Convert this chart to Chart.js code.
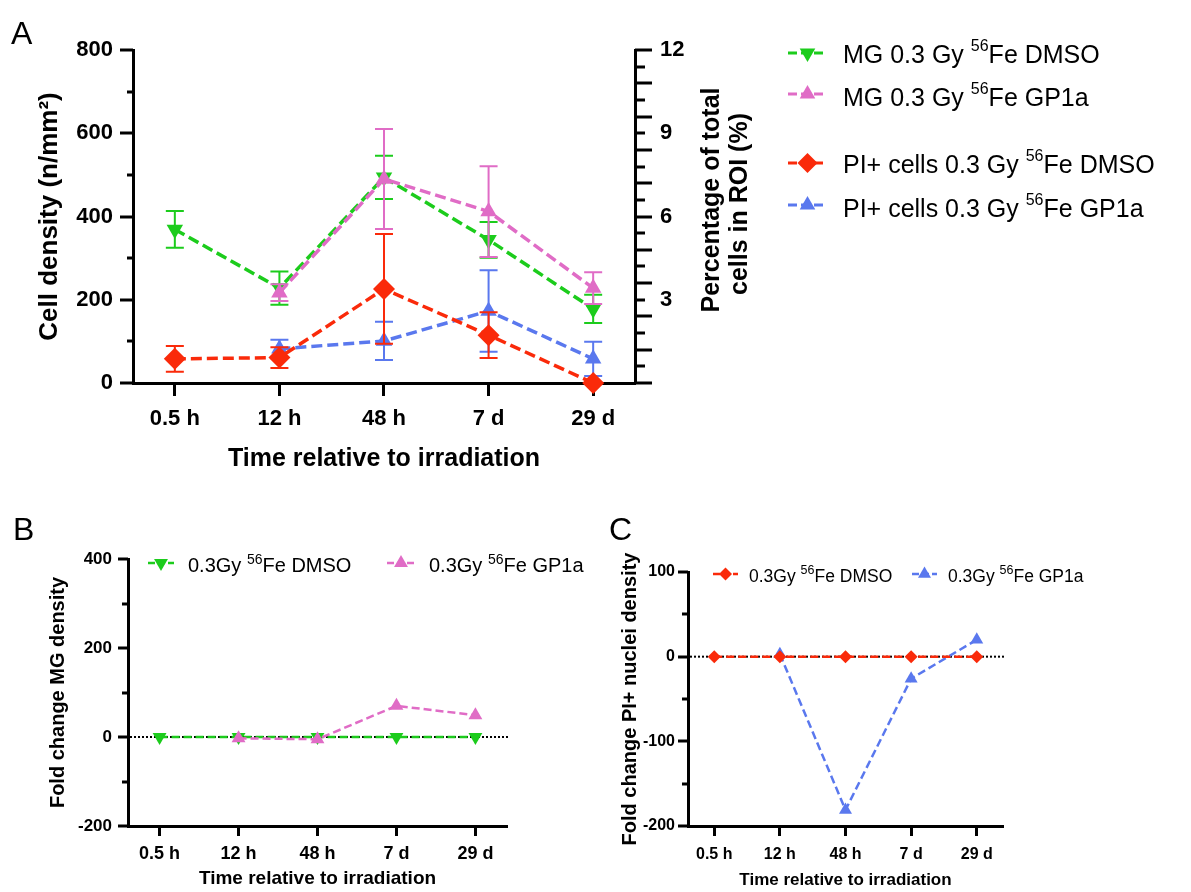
<!DOCTYPE html>
<html>
<head>
<meta charset="utf-8">
<script src="https://cdn.jsdelivr.net/npm/chart.js@4.4.1/dist/chart.umd.min.js"></script>
<style>
  html, body { margin: 0; padding: 0; background: #fff; }
  #fig { position: relative; width: 1191px; height: 892px; overflow: hidden; background: #fff; }
  #fig canvas { position: absolute; }
</style>
</head>
<body>
<div id="fig">
  <canvas id="panelA" width="1191" height="490" style="left:0;top:0"></canvas>
  <canvas id="panelB" width="620" height="402" style="left:0;top:490px"></canvas>
  <canvas id="panelC" width="631" height="402" style="left:560px;top:490px"></canvas>
</div>
<script>
// ---------------- data ----------------
const timepoints = ['0.5 h', '12 h', '48 h', '7 d', '29 d'];

// Panel A: mean ± SEM, cell density (n/mm²)
const mgDmsoMean = [369, 228, 494, 344, 178];
const mgDmsoSem  = [44, 40, 52, 43, 34];
const mgGp1aMean = [null, 217, 490, 412, 228];
const mgGp1aSem  = [null, 20, 120, 109, 38];
const piDmsoMean = [58, 61, 226, 115, 0];
const piDmsoSem  = [31, 25, 132, 55, 0];
const piGp1aMean = [null, 82, 101, 173, 58];
const piGp1aSem  = [null, 22, 46, 98, 41];

// Panel B: fold change of MG density
const foldMgDmso = [0, 0, 0, 0, 0];
const foldMgGp1a = [null, -3, -5, 70, 49];

// Panel C: fold change of PI+ nuclei density
const foldPiDmso = [0, 0, 0, 0, 0];
const foldPiGp1a = [null, 3, -181, -26, 20];

// tick labels
const densityLabels = [0, 200, 400, 600, 800];
const percentLabels = [3, 6, 9, 12];
const foldMgLabels  = [-200, 0, 200, 400];
const foldPiLabels  = [-200, -100, 0, 100];

// legend texts ({..} = superscript)
const labelsA = ['MG 0.3 Gy {56}Fe DMSO', 'MG 0.3 Gy {56}Fe GP1a',
                 'PI+ cells 0.3 Gy {56}Fe DMSO', 'PI+ cells 0.3 Gy {56}Fe GP1a'];
const labelsFold = ['0.3Gy {56}Fe DMSO', '0.3Gy {56}Fe GP1a'];

// ---------------- styling ----------------
const FAM = "'Liberation Sans', Arial, Helvetica, sans-serif";
const GREEN = '#1ccc1c';
const PINK  = '#e06cc6';
const RED   = '#fa2a0a';
const BLUE  = '#5a78ee';

const plain = s => s.replace(/[{}]/g, '');

function drawRich(ctx, str, x, y, size, supSize, supRise, weight) {
  const parts = str.split(/(\{[^}]*\})/).filter(Boolean);
  let cx = x;
  ctx.textAlign = 'left';
  ctx.textBaseline = 'alphabetic';
  for (const p of parts) {
    const sup = p[0] === '{';
    const t = sup ? p.slice(1, -1) : p;
    ctx.font = `${weight} ${sup ? supSize : size}px ${FAM}`;
    ctx.fillText(t, cx, sup ? y - supRise : y);
    cx += ctx.measureText(t).width;
  }
}

function drawMarker(ctx, style, x, y, r, color) {
  ctx.save();
  ctx.fillStyle = color;
  ctx.beginPath();
  if (style === 'triangle') {
    ctx.moveTo(x, y - r); ctx.lineTo(x + 0.866 * r, y + 0.5 * r); ctx.lineTo(x - 0.866 * r, y + 0.5 * r);
  } else if (style === 'triangleDown') {
    ctx.moveTo(x, y + r); ctx.lineTo(x + 0.866 * r, y - 0.5 * r); ctx.lineTo(x - 0.866 * r, y - 0.5 * r);
  } else {
    ctx.moveTo(x, y - r); ctx.lineTo(x + r, y); ctx.lineTo(x, y + r); ctx.lineTo(x - r, y);
  }
  ctx.closePath();
  ctx.fill();
  ctx.restore();
}

function legendSample(ctx, x0, x1, y, color, width, dash, style, r) {
  ctx.save();
  ctx.strokeStyle = color; ctx.lineWidth = width; ctx.setLineDash(dash);
  ctx.beginPath(); ctx.moveTo(x0, y); ctx.lineTo(x1, y); ctx.stroke();
  ctx.restore();
  drawMarker(ctx, style, (x0 + x1) / 2, y, r, color);
}

function rotatedText(ctx, text, x, y, size) {
  ctx.save();
  ctx.translate(x, y);
  ctx.rotate(-Math.PI / 2);
  ctx.font = `bold ${size}px ${FAM}`;
  ctx.textAlign = 'center';
  ctx.textBaseline = 'middle';
  ctx.fillStyle = '#000';
  ctx.fillText(text, 0, 0);
  ctx.restore();
}

function centeredText(ctx, text, x, y, font) {
  ctx.save();
  ctx.font = font; ctx.fillStyle = '#000';
  ctx.textAlign = 'center'; ctx.textBaseline = 'middle';
  ctx.fillText(text, x, y);
  ctx.restore();
}

// ---------------- shared pieces ----------------
const toPoints = arr => arr.map((v, i) => ({ x: i, y: v }));

function series(label, mean, sem, color, style, radius, rotation, lineW, dash) {
  return {
    label: plain(label),
    data: toPoints(mean),
    sem: sem,
    borderColor: color,
    backgroundColor: color,
    borderWidth: lineW,
    borderDash: dash,
    tension: 0,
    spanGaps: false,
    clip: false,
    pointStyle: style,
    pointRotation: rotation,
    pointRadius: radius,
    pointHoverRadius: radius,
    pointBackgroundColor: color,
    pointBorderColor: color,
    pointBorderWidth: 0
  };
}

function xScale(fontSize, tickLen, pad, height) {
  return {
    type: 'linear', min: -0.4, max: 4.4,
    afterBuildTicks: s => { s.ticks = timepoints.map((_, i) => ({ value: i })); },
    afterFit: s => { s.height = height; },
    grid: { display: true, drawOnChartArea: false, drawTicks: true, tickLength: tickLen,
            tickWidth: 3, tickColor: '#000', color: '#000' },
    border: { display: true, color: '#000', width: 3 },
    ticks: { autoSkip: false, maxRotation: 0, minRotation: 0, padding: pad, color: '#000',
             font: { family: FAM, size: fontSize, weight: 'bold' },
             callback: v => (timepoints[v] !== undefined ? timepoints[v] : '') }
  };
}

function yScale(position, min, max, step, labels, fontSize, pad, width) {
  return {
    type: 'linear', position: position, min: min, max: max,
    afterBuildTicks: s => {
      const t = [];
      const n = Math.round((max - min) / step);
      for (let k = 0; k <= n; k++) t.push({ value: min + k * step });
      s.ticks = t;
    },
    afterFit: s => { s.width = width; },
    grid: { display: false, drawTicks: false },
    border: { display: true, color: '#000', width: 3 },
    ticks: { autoSkip: false, padding: pad, color: '#000',
             font: { family: FAM, size: fontSize, weight: 'bold' },
             callback: v => {
               const hit = labels.find(l => Math.abs(l - v) < 1e-6);
               return hit !== undefined ? String(hit) : '';
             } }
  };
}

// error bars under each dataset's own line
const errorBars = {
  id: 'errorBars',
  beforeDatasetDraw(chart, args) {
    const ds = chart.data.datasets[args.index];
    if (!ds.sem) return;
    const ys = chart.scales.y;
    const ctx = chart.ctx;
    const meta = chart.getDatasetMeta(args.index);
    ctx.save();
    ctx.strokeStyle = ds.borderColor;
    ctx.lineWidth = 2;
    meta.data.forEach((pt, j) => {
      const m = ds.data[j].y, e = ds.sem[j];
      if (m === null || !e) return;
      const x = pt.x;
      const yt = ys.getPixelForValue(m + e), yb = ys.getPixelForValue(m - e);
      ctx.beginPath();
      ctx.moveTo(x, yt); ctx.lineTo(x, yb);
      ctx.moveTo(x - 9, yt); ctx.lineTo(x + 9, yt);
      ctx.moveTo(x - 9, yb); ctx.lineTo(x + 9, yb);
      ctx.stroke();
    });
    ctx.restore();
  }
};

// outward tick marks of varying length on y axes
function tickMarks(specs) {
  return {
    id: 'tickMarks',
    afterDraw(chart) {
      const ctx = chart.ctx;
      ctx.save();
      ctx.strokeStyle = '#000';
      ctx.lineWidth = 3;
      specs.forEach(sp => {
        const s = chart.scales[sp.id];
        const x0 = sp.side === 'left' ? chart.chartArea.left : chart.chartArea.right;
        s.ticks.forEach((t, i) => {
          const y = Math.round(s.getPixelForValue(t.value));
          const L = sp.len(t.value, i);
          ctx.beginPath();
          ctx.moveTo(x0, y);
          ctx.lineTo(sp.side === 'left' ? x0 - L : x0 + L, y);
          ctx.stroke();
        });
      });
      ctx.restore();
    }
  };
}

// dotted zero reference line
const zeroLine = {
  id: 'zeroLine',
  beforeDatasetsDraw(chart) {
    const ctx = chart.ctx, a = chart.chartArea;
    const y = chart.scales.y.getPixelForValue(0);
    ctx.save();
    ctx.strokeStyle = '#000'; ctx.lineWidth = 2; ctx.setLineDash([2, 2]);
    ctx.beginPath(); ctx.moveTo(a.left + 2, y); ctx.lineTo(a.right + 2, y); ctx.stroke();
    ctx.restore();
  }
};

const baseOptions = () => ({
  responsive: false, animation: false, devicePixelRatio: 1,
  plugins: { legend: { display: false }, tooltip: { enabled: false } }
});

// ---------------- panel A ----------------
const decoA = {
  id: 'decoA',
  afterDraw(chart) {
    const ctx = chart.ctx, a = chart.chartArea;
    ctx.save();
    ctx.fillStyle = '#000';
    ctx.font = `32px ${FAM}`; ctx.textAlign = 'left'; ctx.textBaseline = 'alphabetic';
    ctx.fillText('A', 11, 44);
    rotatedText(ctx, 'Cell density (n/mm²)', 50, (a.top + a.bottom) / 2, 26);
    rotatedText(ctx, 'Percentage of total', 712, 200, 25);
    rotatedText(ctx, 'cells in ROI (%)', 740, 204, 25);
    centeredText(ctx, 'Time relative to irradiation', (a.left + a.right) / 2, 459, `bold 25px ${FAM}`);
    const rows = [
      { c: GREEN, s: 'triangleDown', y: 53, b: 63 },
      { c: PINK,  s: 'triangle',     y: 94, b: 106 },
      { c: RED,   s: 'diamond',      y: 163, b: 173 },
      { c: BLUE,  s: 'triangle',     y: 205, b: 217 }
    ];
    rows.forEach((r, i) => {
      legendSample(ctx, 788, 827, r.y, r.c, 3, [9, 4], r.s, r.s === 'diamond' ? 10 : 9);
      ctx.fillStyle = '#000';
      drawRich(ctx, labelsA[i], 843, r.b, 25, 16, 12, 'normal');
    });
    ctx.restore();
  }
};

new Chart(document.getElementById('panelA'), {
  type: 'line',
  data: { datasets: [
    series(labelsA[2], piDmsoMean, piDmsoSem, RED, 'rectRot', 11, 0, 3.5, [11, 5]),
    series(labelsA[3], piGp1aMean, piGp1aSem, BLUE, 'triangle', 9.5, 0, 3.5, [11, 5]),
    series(labelsA[1], mgGp1aMean, mgGp1aSem, PINK, 'triangle', 9.5, 0, 3.5, [11, 5]),
    series(labelsA[0], mgDmsoMean, mgDmsoSem, GREEN, 'triangle', 9.5, 180, 3.5, [11, 5])
  ] },
  options: Object.assign(baseOptions(), {
    layout: { padding: { top: 50, left: 0, right: 456, bottom: 0 } },
    scales: {
      x: xScale(22, 13, 10, 107),
      y: yScale('left', 0, 800, 100, densityLabels, 22, 20, 133),
      y2: yScale('right', 0, 12, 0.6, percentLabels, 22, 25, 100)
    }
  }),
  plugins: [errorBars, decoA, tickMarks([
    { id: 'y', side: 'left', len: v => (v % 200 === 0 ? 13 : 6) },
    { id: 'y2', side: 'right', len: (v, i) => (i % 2 === 0 ? 17 : 10) }
  ])]
});

// ---------------- panel B ----------------
const decoB = {
  id: 'decoB',
  afterDraw(chart) {
    const ctx = chart.ctx, a = chart.chartArea;
    ctx.save();
    ctx.fillStyle = '#000';
    ctx.font = `32px ${FAM}`; ctx.textAlign = 'left'; ctx.textBaseline = 'alphabetic';
    ctx.fillText('B', 13, 50);
    rotatedText(ctx, 'Fold change MG density', 58, (a.top + a.bottom) / 2, 20);
    centeredText(ctx, 'Time relative to irradiation', (a.left + a.right) / 2, 389, `bold 19px ${FAM}`);
    legendSample(ctx, 148, 174, 73, GREEN, 2.5, [7, 3], 'triangleDown', 8);
    ctx.fillStyle = '#000';
    drawRich(ctx, labelsFold[0], 188, 82, 20, 14, 8, 'normal');
    legendSample(ctx, 387, 415, 73, PINK, 2.5, [7, 3], 'triangle', 8);
    ctx.fillStyle = '#000';
    drawRich(ctx, labelsFold[1], 429, 82, 20, 14, 8, 'normal');
    ctx.restore();
  }
};

new Chart(document.getElementById('panelB'), {
  type: 'line',
  data: { datasets: [
    series(labelsFold[1], foldMgGp1a, null, PINK, 'triangle', 8, 0, 2.5, [8, 4]),
    series(labelsFold[0], foldMgDmso, null, GREEN, 'triangle', 8, 180, 2.5, [8, 4])
  ] },
  options: Object.assign(baseOptions(), {
    layout: { padding: { top: 69, left: 0, right: 113, bottom: 0 } },
    scales: {
      x: xScale(18, 10, 7, 66),
      y: yScale('left', -200, 400, 100, foldMgLabels, 17, 16, 128)
    }
  }),
  plugins: [zeroLine, decoB, tickMarks([
    { id: 'y', side: 'left', len: v => (v % 200 === 0 ? 10 : 6) }
  ])]
});

// ---------------- panel C ----------------
const decoC = {
  id: 'decoC',
  afterDraw(chart) {
    const ctx = chart.ctx, a = chart.chartArea;
    ctx.save();
    ctx.fillStyle = '#000';
    ctx.font = `32px ${FAM}`; ctx.textAlign = 'left'; ctx.textBaseline = 'alphabetic';
    ctx.fillText('C', 49, 50);
    rotatedText(ctx, 'Fold change PI+ nuclei density', 70, (a.top + a.bottom) / 2, 20);
    centeredText(ctx, 'Time relative to irradiation', (a.left + a.right) / 2, 390, `bold 17px ${FAM}`);
    legendSample(ctx, 153, 178, 84, RED, 2.5, [7, 3], 'diamond', 6.5);
    ctx.fillStyle = '#000';
    drawRich(ctx, labelsFold[0], 189, 92, 17.5, 12.5, 8, 'normal');
    legendSample(ctx, 352, 377, 84, BLUE, 2.5, [7, 3], 'triangle', 7.5);
    ctx.fillStyle = '#000';
    drawRich(ctx, labelsFold[1], 388, 92, 17.5, 12.5, 8, 'normal');
    ctx.restore();
  }
};

new Chart(document.getElementById('panelC'), {
  type: 'line',
  data: { datasets: [
    series(labelsFold[0], foldPiDmso, null, RED, 'rectRot', 6.5, 0, 2.5, [8, 4]),
    series(labelsFold[1], foldPiGp1a, null, BLUE, 'triangle', 7.5, 0, 2.5, [8, 4])
  ] },
  options: Object.assign(baseOptions(), {
    layout: { padding: { top: 82, left: 0, right: 188, bottom: 0 } },
    scales: {
      x: xScale(16, 10, 9, 66),
      y: yScale('left', -200, 100, 50, foldPiLabels, 16, 13, 128)
    }
  }),
  plugins: [zeroLine, decoC, tickMarks([
    { id: 'y', side: 'left', len: v => (v % 100 === 0 ? 10 : 6) }
  ])]
});
</script>
</body>
</html>
